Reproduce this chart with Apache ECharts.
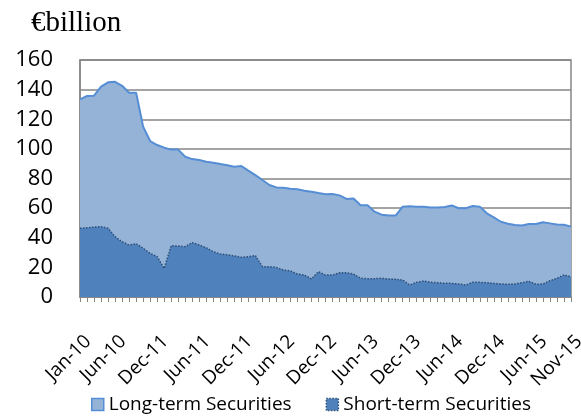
<!DOCTYPE html>
<html>
<head>
<meta charset="utf-8">
<script src="https://cdn.jsdelivr.net/npm/echarts@6/dist/echarts.min.js"></script>
<style>html,body{margin:0;padding:0;background:#fff}#c{width:581px;height:419px}</style>
</head>
<body>
<div id="c"></div>
<script>
var months = [
 'Jan-10','Feb-10','Mar-10','Apr-10','May-10','Jun-10','Jul-10','Aug-10','Sep-10','Oct-10','Nov-10','Dec-10',
 'Jan-11','Feb-11','Mar-11','Apr-11','May-11','Jun-11','Jul-11','Aug-11','Sep-11','Oct-11','Nov-11','Dec-11',
 'Jan-12','Feb-12','Mar-12','Apr-12','May-12','Jun-12','Jul-12','Aug-12','Sep-12','Oct-12','Nov-12','Dec-12',
 'Jan-13','Feb-13','Mar-13','Apr-13','May-13','Jun-13','Jul-13','Aug-13','Sep-13','Oct-13','Nov-13','Dec-13',
 'Jan-14','Feb-14','Mar-14','Apr-14','May-14','Jun-14','Jul-14','Aug-14','Sep-14','Oct-14','Nov-14','Dec-14',
 'Jan-15','Feb-15','Mar-15','Apr-15','May-15','Jun-15','Jul-15','Aug-15','Sep-15','Oct-15','Nov-15'
];
var tickIndex = [0,5,11,17,23,29,35,41,47,53,59,65,70];
var tickLabels = ['Jan-10','Jun-10','Dec-11','Jun-11','Dec-11','Jun-12','Dec-12','Jun-13','Dec-13','Jun-14','Dec-14','Jun-15','Nov-15'];
var longTerm = [
 133.4,135.7,135.9,142,144.9,145.3,142.6,137.9,137.9,115,105.3,102.6,
 100.8,99.5,99.5,94.7,93.1,92.5,91.3,90.7,89.8,88.9,88,88.4,
 85.3,82.3,79,75.6,74,73.8,73.1,72.7,71.8,71.1,70.2,69.4,
 69.5,68.6,66.2,66.5,62,62,57.6,55.6,55,55,61,61.2,
 61,61,60.5,60.5,60.8,61.8,59.9,59.9,61.4,61,56.5,53.8,
 50.8,49.5,48.6,48.3,49.3,49.3,50.4,49.7,49,48.8,47.5
];
var shortTerm = [
 46.4,46.8,47.2,47.5,46.4,40.7,37.3,35.1,36,32.9,29.5,27.2,
 19.3,34.6,34.4,34,36.7,35.1,33.2,30.6,29,28.6,27.7,26.8,
 27.2,28,20.5,20.5,20,18.2,17.6,15.5,14.8,12.2,17.1,14.8,
 14.8,16.4,16.4,15.5,12.6,12.4,12.4,12.6,12.2,11.9,11.5,8.1,
 9.9,10.8,9.9,9.7,9.2,9.2,8.8,8.1,9.9,9.9,9.7,9.2,
 8.8,8.6,8.8,9.7,10.6,8.6,8.8,11,12.6,14.9,13.7
];
var yTicks = {min: 0, max: 160, interval: 20};

var chart = echarts.init(document.getElementById('c'), null, {renderer: 'canvas'});
var sans = '"Open Sans", "Liberation Sans", sans-serif';
chart.setOption({
  animation: false,
  backgroundColor: '#ffffff',
  title: {
    text: '€billion', left: 26, top: 4,
    textStyle: {fontFamily: '"Liberation Serif", serif', fontSize: 29, fontWeight: 'normal', color: '#000'}
  },
  grid: {left: 80, right: 10, top: 60, bottom: 122, show: true, borderColor: '#868686', borderWidth: 1.5,
         containLabel: false, outerBoundsMode: 'none'},
  legend: {
    bottom: 0, left: 86, itemGap: 34, itemWidth: 12, itemHeight: 12, itemSpacing: 4,
    textStyle: {fontFamily: sans, fontSize: 19, color: '#000'},
    data: [
      {name: 'Long-term Securities', icon: 'rect', itemStyle: {color: '#95B3D7', borderColor: '#558ED5', borderWidth: 1.5}},
      {name: 'Short-term Securities', icon: 'rect', itemStyle: {color: '#4F81BD', borderColor: '#2C4D75', borderWidth: 1.5, borderType: 'dotted'}}
    ]
  },
  xAxis: {
    type: 'category', boundaryGap: false, data: months,
    axisLine: {lineStyle: {color: '#868686', width: 1.5}},
    axisTick: {show: true, interval: 0, length: 5, lineStyle: {color: '#868686'}},
    axisLabel: {
      interval: function (idx) { return tickIndex.indexOf(idx) >= 0; },
      formatter: function (v, idx) { var p = tickIndex.indexOf(idx); return p >= 0 ? tickLabels[p] : ''; },
      rotate: 45, margin: 22, align: 'right', verticalAlign: 'top', padding: [10, 8, -10, 0],
      showMinLabel: true, showMaxLabel: true, hideOverlap: false,
      fontFamily: sans, fontSize: 19, color: '#000'
    },
    splitLine: {show: false}
  },
  yAxis: {
    type: 'value', min: yTicks.min, max: yTicks.max, interval: yTicks.interval,
    axisLine: {show: true, lineStyle: {color: '#868686', width: 1.5}},
    axisTick: {show: false},
    axisLabel: {fontFamily: sans, fontSize: 22, color: '#000', margin: 27},
    splitLine: {lineStyle: {color: '#868686', width: 1.5}}
  },
  series: [
    {
      name: 'Long-term Securities', type: 'line', data: longTerm, showSymbol: false, symbol: 'none',
      lineStyle: {color: '#558ED5', width: 2},
      itemStyle: {color: '#95B3D7'},
      areaStyle: {color: '#95B3D7', opacity: 1}, z: 2
    },
    {
      name: 'Short-term Securities', type: 'line', data: shortTerm, showSymbol: false, symbol: 'none',
      lineStyle: {color: '#2C4D75', width: 1.5, type: 'dotted'},
      itemStyle: {color: '#4F81BD'},
      areaStyle: {color: '#4F81BD', opacity: 1}, z: 3
    }
  ]
});
</script>
</body>
</html>
